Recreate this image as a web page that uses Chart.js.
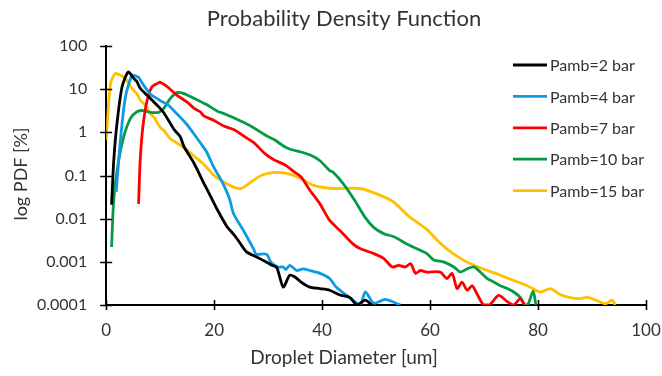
<!DOCTYPE html>
<html><head><meta charset="utf-8">
<script src="https://cdn.jsdelivr.net/npm/chart.js@4/dist/chart.umd.min.js"></script>
<style>html,body{margin:0;padding:0;background:#fff;}#wrap{width:662px;height:376px;position:relative;}</style>
</head><body><div id="wrap"><canvas id="c"></canvas></div>
<script>
const chartTitle = 'Probability Density Function';
const xAxisTitle = 'Droplet Diameter [um]';
const yAxisTitle = 'log PDF [%]';
const seriesLabels = ['Pamb=2 bar', 'Pamb=4 bar', 'Pamb=7 bar', 'Pamb=10 bar', 'Pamb=15 bar'];
const seriesColors = ['#000000', '#0f9be3', '#ff0000', '#079a44', '#ffc000'];
const xTicks = [0, 20, 40, 60, 80, 100];
const yTicks = [0.0001, 0.001, 0.01, 0.1, 1, 10, 100];
const yTickLabels = ['0.0001', '0.001', '0.01', '0.1', '1', '10', '100'];

const pamb2X = [1.0, 1.4, 2.0, 2.95, 4.1, 5.1, 5.7, 6.3, 7.6, 8.8, 10.0, 10.7, 11.9, 12.6, 13.7, 14.4, 16.3, 18.1, 19.7, 20.5, 22.3, 23.7, 24.4, 26.0, 27.9, 29.9, 30.6, 31.6, 32.8, 34.0, 34.9, 36.1, 37.7, 39.6, 41.4, 43.3, 45.1, 46.5, 48.0, 49.2];
const pamb2Y = [0.021, 0.22, 1.6, 11.4, 25, 17.8, 14.8, 10.5, 7.2, 5.1, 3.6, 2.8, 1.6, 1.15, 0.8, 0.47, 0.19, 0.066, 0.027, 0.017, 0.0068, 0.0042, 0.0032, 0.0017, 0.0013, 0.00095, 0.00085, 0.00074, 0.00026, 0.00049, 0.00045, 0.00034, 0.00026, 0.00024, 0.00022, 0.00017, 0.00015, 0.0001, 0.00013, 0.0001];

const pamb4X = [1.85, 2.64, 3.56, 4.8, 5.7, 6.0, 6.9, 7.6, 8.2, 9.4, 10.1, 11.3, 13.1, 15.0, 16.2, 17.5, 18.6, 20.0, 21.5, 22.8, 23.6, 25.4, 27.3, 27.8, 29.7, 30.5, 31.8, 32.8, 33.3, 34.0, 35.3, 36.5, 37.7, 39.6, 41.4, 42.6, 44.2, 45.7, 47.1, 48.0, 49.6, 51.7, 53.7, 54.5];
const pamb4Y = [0.042, 0.66, 6.6, 21, 19.5, 18.7, 12.5, 9.5, 7.6, 6.1, 5.3, 4.5, 2.7, 1.5, 0.94, 0.56, 0.35, 0.15, 0.07, 0.03, 0.013, 0.0054, 0.002, 0.0015, 0.0015, 0.001, 0.00076, 0.00076, 0.00066, 0.00083, 0.00063, 0.00069, 0.00063, 0.00054, 0.00041, 0.00026, 0.00018, 0.00013, 0.0001, 0.0002, 0.00011, 0.000135, 0.00011, 0.0001];

const pamb7X = [6.0, 6.3, 6.8, 7.6, 8.5, 9.7, 10.0, 11.3, 13.1, 15.0, 16.3, 17.4, 18.1, 19.9, 21.9, 23.7, 25.6, 27.4, 29.3, 31.1, 33.0, 34.9, 36.1, 37.7, 39.6, 41.4, 43.3, 45.7, 47.1, 49.6, 51.4, 53.0, 54.2, 55.4, 56.4, 57.3, 58.2, 59.4, 61.9, 63.1, 64.1, 65.0, 65.9, 66.9, 67.8, 68.7, 69.9, 71.0, 72.7, 74.3, 75.5, 76.7, 77.5];
const pamb7Y = [0.022, 0.22, 1.35, 5.6, 11.4, 14, 14.5, 11.5, 7.3, 5.0, 3.6, 3.0, 2.4, 1.9, 1.38, 1.15, 0.8, 0.57, 0.33, 0.23, 0.18, 0.12, 0.093, 0.046, 0.022, 0.0091, 0.0053, 0.0026, 0.002, 0.00155, 0.0012, 0.00076, 0.00083, 0.00076, 0.00091, 0.00054, 0.00063, 0.00058, 0.00058, 0.00041, 0.00054, 0.00024, 0.00034, 0.00022, 0.00028, 0.00018, 0.0001, 0.0001, 0.000166, 0.00012, 0.0001, 0.00014, 0.0001];

const pamb10X = [1.0, 1.4, 2.3, 3.25, 4.5, 5.7, 6.9, 8.2, 9.7, 10.6, 11.9, 13.1, 14.3, 16.2, 18.6, 20.8, 21.9, 23.7, 25.6, 27.4, 29.3, 31.1, 33.0, 34.2, 36.1, 38.0, 39.6, 41.4, 42.0, 43.9, 46.0, 47.9, 49.6, 51.4, 53.3, 55.7, 57.6, 59.4, 60.7, 62.5, 64.4, 65.6, 66.9, 68.1, 69.3, 70.6, 71.8, 73.0, 74.3, 75.5, 76.7, 77.5, 78.1, 79.1, 79.6];
const pamb10Y = [0.0022, 0.027, 0.22, 0.8, 2.1, 3.0, 3.2, 2.9, 2.9, 3.5, 6.1, 8.3, 8.0, 6.2, 4.4, 3.0, 2.7, 2.15, 1.66, 1.26, 0.89, 0.68, 0.47, 0.4, 0.35, 0.29, 0.22, 0.13, 0.12, 0.065, 0.027, 0.011, 0.0062, 0.0045, 0.0038, 0.0026, 0.002, 0.00155, 0.0011, 0.001, 0.00076, 0.00058, 0.00069, 0.00076, 0.00058, 0.00041, 0.00034, 0.00028, 0.00024, 0.0002, 0.00015, 0.0001, 0.0001, 0.00021, 0.0001];

const pamb15X = [0, 0.8, 1.7, 2.6, 3.0, 4.2, 4.5, 5.8, 6.3, 7.3, 8.2, 9.0, 10.0, 10.7, 11.9, 12.6, 14.4, 16.3, 18.1, 20.0, 21.9, 23.7, 25.0, 26.8, 28.7, 31.1, 33.6, 36.1, 38.3, 42.0, 47.0, 50.0, 53.1, 56.2, 59.3, 61.5, 63.1, 65.6, 68.1, 70.6, 73.0, 75.5, 78.0, 80.4, 82.3, 83.9, 85.8, 87.6, 89.1, 90.7, 92.5, 93.7, 94.3];
const pamb15Y = [0.66, 13.5, 23, 21, 20, 14, 11.5, 7.5, 5.6, 4.2, 2.7, 2.1, 1.3, 1.1, 0.7, 0.62, 0.44, 0.28, 0.18, 0.1, 0.069, 0.053, 0.05, 0.07, 0.1, 0.118, 0.11, 0.085, 0.06, 0.05, 0.05, 0.038, 0.025, 0.011, 0.0058, 0.003, 0.002, 0.0012, 0.00083, 0.00063, 0.00049, 0.00037, 0.00028, 0.0002, 0.00024, 0.00018, 0.00015, 0.00014, 0.00015, 0.00013, 0.000107, 0.00013, 0.0001];

const seriesX = [pamb2X, pamb4X, pamb7X, pamb10X, pamb15X];
const seriesY = [pamb2Y, pamb4Y, pamb7Y, pamb10Y, pamb15Y];

const FONT = 'Lato, "Open Sans", sans-serif';
const TEXT = '#333333';

const datasets = seriesLabels.map((label, i) => ({
  label,
  data: seriesX[i].map((x, j) => ({ x, y: seriesY[i][j] })),
  borderColor: seriesColors[i],
  backgroundColor: seriesColors[i],
  borderWidth: 2.8,
  pointRadius: 0,
  tension: 0.25,
  fill: false
}));

const decorPlugin = {
  id: 'decor',
  afterDraw(chart) {
    const ctx = chart.ctx;
    const xs = chart.scales.x, ys = chart.scales.y;
    const area = chart.chartArea;
    ctx.save();
    ctx.strokeStyle = '#000';
    ctx.lineWidth = 1.6;
    ctx.beginPath();
    xTicks.forEach(v => {
      const px = Math.round(xs.getPixelForValue(v)) + 0.5;
      ctx.moveTo(px, area.bottom - 5);
      ctx.lineTo(px, area.bottom + 5);
    });
    yTicks.forEach(v => {
      const py = Math.round(ys.getPixelForValue(v)) + 0.5;
      ctx.moveTo(area.left - 6, py);
      ctx.lineTo(area.left + 6, py);
    });
    ctx.stroke();
    ctx.fillStyle = TEXT;
    ctx.textAlign = 'center';
    ctx.textBaseline = 'alphabetic';
    ctx.font = '22px ' + FONT;
    ctx.fillText(chartTitle, 344, 26);
    ctx.font = '19px ' + FONT;
    ctx.fillText(xAxisTitle, 344, 364);
    ctx.save();
    ctx.translate(27, 174);
    ctx.rotate(-Math.PI / 2);
    ctx.font = '18px ' + FONT;
    ctx.fillText(yAxisTitle, 0, 0);
    ctx.restore();
    ctx.font = '16px ' + FONT;
    ctx.textAlign = 'left';
    ctx.textBaseline = 'middle';
    chart.data.datasets.forEach((ds, i) => {
      const y = 65 + i * 31.4;
      ctx.strokeStyle = ds.borderColor;
      ctx.lineWidth = 2.8;
      ctx.beginPath();
      ctx.moveTo(513, y);
      ctx.lineTo(547, y);
      ctx.stroke();
      ctx.fillStyle = TEXT;
      ctx.fillText(ds.label, 550, y + 1);
    });
    ctx.restore();
  }
};

new Chart(document.getElementById('c'), {
  type: 'line',
  data: { datasets },
  options: {
    responsive: true,
    maintainAspectRatio: false,
    animation: false,
    events: [],
    layout: { padding: { left: 18, right: 16, top: 46, bottom: 0 } },
    plugins: { legend: { display: false }, title: { display: false }, tooltip: { enabled: false } },
    scales: {
      x: {
        type: 'linear',
        min: 0, max: 100,
        afterBuildTicks: s => { s.ticks = xTicks.map(v => ({ value: v })); },
        afterFit: s => { s.height = 71; s.paddingLeft = 0; s.paddingRight = 0; },
        grid: { display: false, drawTicks: false, tickLength: 0 },
        border: { display: true, color: '#000', width: 2 },
        ticks: { color: TEXT, font: { family: FONT, size: 17 }, padding: 15, maxRotation: 0, autoSkip: false }
      },
      y: {
        type: 'logarithmic',
        min: 0.0001, max: 100,
        afterBuildTicks: s => { s.ticks = yTicks.map(v => ({ value: v })); },
        grid: { display: false, drawTicks: false, tickLength: 0 },
        border: { display: true, color: '#000', width: 2 },
        ticks: {
          color: TEXT, font: { family: FONT, size: 16 }, padding: 19, autoSkip: false,
          callback: (v) => { const k = yTicks.indexOf(v); return k >= 0 ? yTickLabels[k] : ''; }
        }
      }
    }
  },
  plugins: [decorPlugin]
});
</script></body></html>
